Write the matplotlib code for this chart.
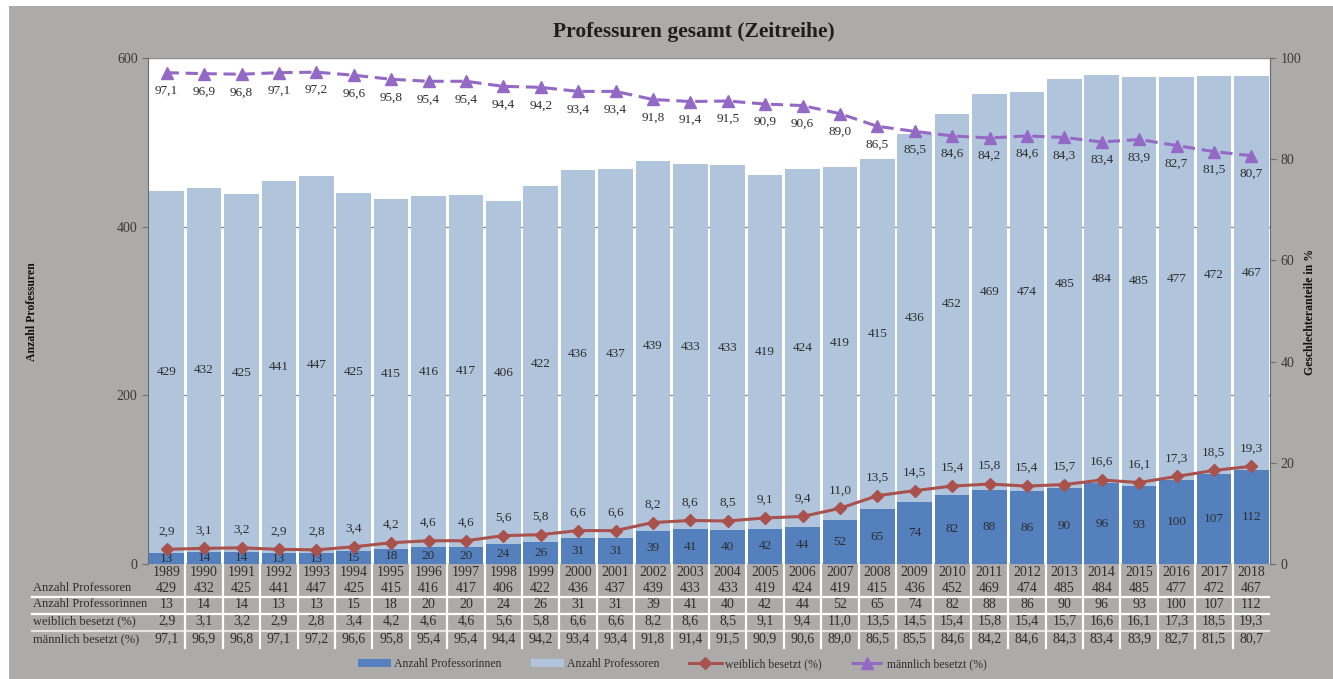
import matplotlib
matplotlib.use("Agg")
import matplotlib.pyplot as plt
import matplotlib.transforms as mtransforms
from matplotlib.patches import Rectangle, Patch
from matplotlib.lines import Line2D

years = list(range(1989, 2019))
professoren = [429, 432, 425, 441, 447, 425, 415, 416, 417, 406, 422, 436, 437, 439, 433,
               433, 419, 424, 419, 415, 436, 452, 469, 474, 485, 484, 485, 477, 472, 467]
professorinnen = [13, 14, 14, 13, 13, 15, 18, 20, 20, 24, 26, 31, 31, 39, 41,
                  40, 42, 44, 52, 65, 74, 82, 88, 86, 90, 96, 93, 100, 107, 112]
weiblich = [2.9, 3.1, 3.2, 2.9, 2.8, 3.4, 4.2, 4.6, 4.6, 5.6, 5.8, 6.6, 6.6, 8.2, 8.6,
            8.5, 9.1, 9.4, 11.0, 13.5, 14.5, 15.4, 15.8, 15.4, 15.7, 16.6, 16.1, 17.3, 18.5, 19.3]
maennlich = [97.1, 96.9, 96.8, 97.1, 97.2, 96.6, 95.8, 95.4, 95.4, 94.4, 94.2, 93.4, 93.4, 91.8, 91.4,
             91.5, 90.9, 90.6, 89.0, 86.5, 85.5, 84.6, 84.2, 84.6, 84.3, 83.4, 83.9, 82.7, 81.5, 80.7]

title = "Professuren gesamt (Zeitreihe)"
left_label = "Anzahl Professuren"
right_label = "Geschlechteranteile in %"
row_labels = ["Anzahl Professoren", "Anzahl Professorinnen", "weiblich besetzt (%)", "männlich besetzt (%)"]
legend_labels = ["Anzahl Professorinnen", "Anzahl Professoren", "weiblich besetzt (%)", "männlich besetzt (%)"]

C_DARK = "#5580be"
C_LIGHT = "#b0c5dc"
C_RED = "#a9514d"
C_PURPLE = "#9469c6"
C_BG = "#adaba9"
C_TXT = "#2e2e2e"
C_AX = "#6e6e6e"

plt.rcParams['font.family'] = ['Liberation Serif', 'DejaVu Serif']

W, H = 1333, 679
fig = plt.figure(figsize=(W / 100, H / 100), dpi=100)
fig.patch.set_facecolor("white")
fig.patches.append(Rectangle((9 / W, 0), 1 - 9 / W, 1 - 6 / H, transform=fig.transFigure,
                             facecolor=C_BG, edgecolor="none", zorder=-10))

def fx(px):
    return px / W

def fy(py):
    return 1 - py / H

ax = fig.add_axes([fx(148), fy(564), fx(1270) - fx(148), fy(58) - fy(564)])
ax.set_facecolor("white")
x = list(range(len(years)))
bw = 0.93
ax.bar(x, professorinnen, width=bw, color=C_DARK, zorder=2)
ax.bar(x, professoren, width=bw, bottom=professorinnen, color=C_LIGHT, zorder=2)
ax.set_xlim(-0.5, len(years) - 0.5)
ax.set_ylim(0, 600)
ax.set_yticks([0, 200, 400, 600])
ax.yaxis.grid(True, color="#8c8c8c", linewidth=1.0, zorder=0)
ax.set_axisbelow(True)
ax.set_xticks([])
for s in ["top", "bottom"]:
    ax.spines[s].set_visible(False)
for s in ["left", "right"]:
    ax.spines[s].set_color(C_AX)
ax.tick_params(axis="y", colors=C_AX, labelcolor="#3a3a3a", labelsize=10, length=4, direction="out")

for i in range(len(years)):
    ax.text(i, professorinnen[i] / 2, str(professorinnen[i]), ha="center", va="center",
            fontsize=9.5, color=C_TXT, zorder=3)
    ax.text(i, professorinnen[i] + professoren[i] / 2, str(professoren[i]), ha="center", va="center",
            fontsize=9.5, color=C_TXT, zorder=3)

ax2 = ax.twinx()
ax2.set_ylim(0, 100)
ax2.set_yticks([0, 20, 40, 60, 80, 100])
for s in ["top", "bottom", "left"]:
    ax2.spines[s].set_visible(False)
ax2.spines["right"].set_color(C_AX)
ax2.tick_params(axis="y", colors=C_AX, labelcolor="#3a3a3a", labelsize=10, length=4, direction="out")

ax2.plot(x, weiblich, color=C_RED, linewidth=2.2, marker="D", markersize=6, zorder=4)
ax2.plot(x, maennlich, color=C_PURPLE, linewidth=2.2, linestyle=(0, (4, 2.2)), marker="^",
         markersize=8.5, zorder=4)

def de(v):
    return f"{v:.1f}".replace(".", ",")

for i in range(len(years)):
    ax2.annotate(de(weiblich[i]), (i, weiblich[i]), xytext=(0, 13), textcoords="offset points",
                 ha="center", va="center", fontsize=9.5, color=C_TXT, zorder=5)
    ax2.annotate(de(maennlich[i]), (i, maennlich[i]), xytext=(0, -13), textcoords="offset points",
                 ha="center", va="center", fontsize=9.5, color=C_TXT, zorder=5)

fig.text(fx(694), fy(32), title, ha="center", va="center", fontsize=15.5, fontweight="bold", color="#1e1e1e")
fig.text(fx(32), fy(312), left_label, rotation=90, ha="center", va="center", fontsize=8.5,
         fontweight="bold", color="#111111")
fig.text(fx(1310), fy(312), right_label, rotation=90, ha="center", va="center", fontsize=8.5,
         fontweight="bold", color="#111111")

# data table
trans = mtransforms.blended_transform_factory(ax.transData, fig.transFigure)
row_y = [588, 604, 621, 639]
rows = [[str(v) for v in professoren], [str(v) for v in professorinnen],
        [de(v) for v in weiblich], [de(v) for v in maennlich]]
for i, yr in enumerate(years):
    ax.text(i, fy(572), str(yr), transform=trans, ha="center", va="center", fontsize=10,
            color=C_TXT, clip_on=False)
    for r, ry in enumerate(row_y):
        ax.text(i, fy(ry), rows[r][i], transform=trans, ha="center", va="center", fontsize=10,
                color=C_TXT, clip_on=False)
for r, ry in enumerate(row_y):
    fig.text(fx(33), fy(ry), row_labels[r], ha="left", va="center", fontsize=9, color=C_TXT)

for ly, c in [(597, "white"), (614, "white"), (631, "#e4e3e2")]:
    fig.add_artist(Line2D([fx(32), fx(1269)], [fy(ly), fy(ly)], transform=fig.transFigure,
                          color=c, linewidth=1.6))
for k in range(len(years) - 1):
    fig.add_artist(Line2D([k + 0.5, k + 0.5], [fy(565), fy(648)], transform=trans,
                          color="white", linewidth=1.6))

handles = [Patch(facecolor=C_DARK, edgecolor="none"), Patch(facecolor=C_LIGHT, edgecolor="none"),
           Line2D([], [], color=C_RED, linewidth=2.2, marker="D", markersize=6),
           Line2D([], [], color=C_PURPLE, linewidth=2.2, linestyle=(0, (4, 2.2)), marker="^", markersize=8.5)]
leg = fig.legend(handles, legend_labels, loc="center", bbox_to_anchor=(fx(672), fy(664)), ncol=4,
                 frameon=False, fontsize=8.5, handlelength=2.8, handleheight=0.6, columnspacing=2.5,
                 handletextpad=0.25)
for t in leg.get_texts():
    t.set_color(C_TXT)

fig.savefig("out.png", dpi=100, facecolor=fig.get_facecolor())
